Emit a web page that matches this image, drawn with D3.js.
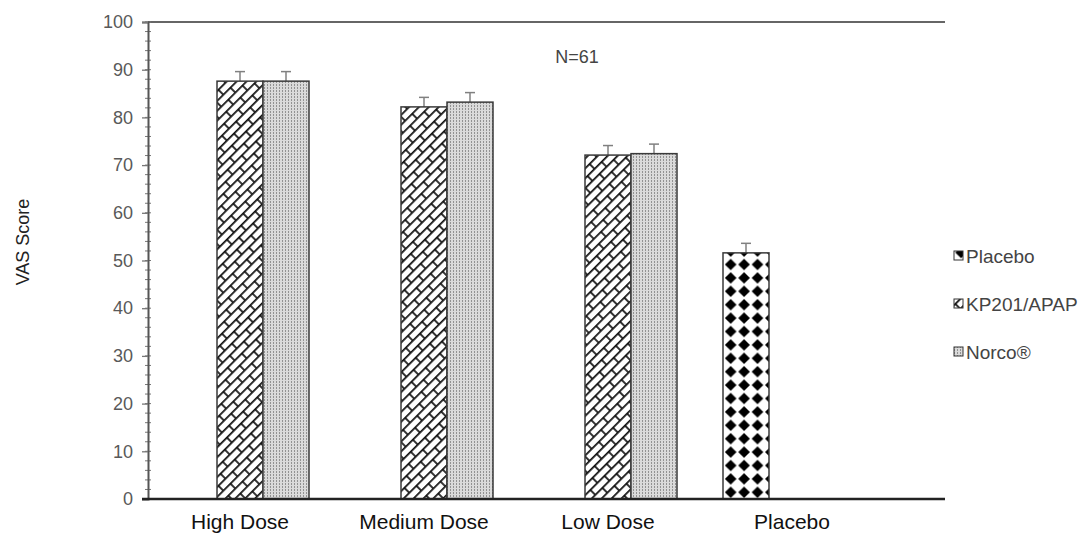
<!DOCTYPE html>
<html>
<head>
<meta charset="utf-8">
<script src="https://cdn.jsdelivr.net/npm/d3@7"></script>
<style>
  body { margin: 0; background: #fff; }
  svg { font-family: "Liberation Sans", Arial, sans-serif; }
</style>
</head>
<body>
<svg id="chart" width="1085" height="537"></svg>
<script>
// values
const categories = ['High Dose', 'Medium Dose', 'Low Dose', 'Placebo'];
const seriesNames = ['Placebo', 'KP201/APAP', 'Norco®'];
const placeboValues = [null, null, null, 51.6];
const kp201Values = [87.6, 82.2, 72.1, null];
const norcoValues = [87.6, 83.2, 72.4, null];
const placeboErrors = [null, null, null, 2.0];
const kp201Errors = [2.0, 2.0, 2.0, null];
const norcoErrors = [2.0, 2.0, 2.0, null];
const yTicks = [0, 10, 20, 30, 40, 50, 60, 70, 80, 90, 100];

const svg = d3.select('#chart');
const plotLeft = 148, plotTop = 22, plotBottom = 499, catRight = 884, frameRight = 945;

const x = d3.scaleBand().domain(categories).range([plotLeft, catRight]);
const groupPad = x.bandwidth() / 8;
const xs = d3.scaleBand().domain(seriesNames).range([groupPad, x.bandwidth() - groupPad]);
const y = d3.scaleLinear().domain([0, 100]).range([plotBottom, plotTop]);

// patterns
const defs = svg.append('defs');

// diagonal brick for KP201/APAP
const brick = defs.append('pattern')
  .attr('id', 'pat-kp')
  .attr('patternUnits', 'userSpaceOnUse')
  .attr('width', 20).attr('height', 14)
  .attr('patternTransform', 'rotate(-45)');
brick.append('rect').attr('width', 20).attr('height', 14).attr('fill', '#fff');
brick.append('path')
  .attr('d', 'M0,0.8H20M0,7.8H20M1,0V8M11,7V14')
  .attr('stroke', '#111').attr('stroke-width', 1.7).attr('fill', 'none');

// fine gray texture for Norco
const dots = defs.append('pattern')
  .attr('id', 'pat-norco')
  .attr('patternUnits', 'userSpaceOnUse')
  .attr('width', 3).attr('height', 3);
dots.append('rect').attr('width', 3).attr('height', 3).attr('fill', '#dadada');
dots.append('rect').attr('width', 1).attr('height', 2).attr('fill', '#929292');

// diamond checker for Placebo
const diam = defs.append('pattern')
  .attr('id', 'pat-placebo')
  .attr('patternUnits', 'userSpaceOnUse')
  .attr('x', 724).attr('y', plotBottom)
  .attr('width', 13.4).attr('height', 13.4);
diam.append('rect').attr('width', 13.4).attr('height', 13.4).attr('fill', '#fff');
const r = 5.8, c = 6.7;
diam.append('path')
  .attr('d', `M${c},${c - r}L${c + r},${c}L${c},${c + r}L${c - r},${c}Z`)
  .attr('fill', '#000');

const fills = {'Placebo': 'url(#pat-placebo)', 'KP201/APAP': 'url(#pat-kp)', 'Norco®': 'url(#pat-norco)'};
const valueSets = {'Placebo': placeboValues, 'KP201/APAP': kp201Values, 'Norco®': norcoValues};
const errorSets = {'Placebo': placeboErrors, 'KP201/APAP': kp201Errors, 'Norco®': norcoErrors};

const rows = [];
seriesNames.forEach(s => {
  categories.forEach((cat, i) => {
    if (valueSets[s][i] != null) rows.push({series: s, cat: cat, value: valueSets[s][i], err: errorSets[s][i]});
  });
});

// frame top line
svg.append('line')
  .attr('x1', plotLeft).attr('x2', frameRight)
  .attr('y1', plotTop).attr('y2', plotTop)
  .attr('stroke', '#333').attr('stroke-width', 1.5);

// error bars
const err = svg.append('g').attr('stroke', '#808080').attr('stroke-width', 1.5);
rows.forEach(d => {
  const cx = x(d.cat) + xs(d.series) + xs.bandwidth() / 2;
  err.append('line').attr('x1', cx).attr('x2', cx)
    .attr('y1', y(d.value)).attr('y2', y(d.value + d.err));
  err.append('line').attr('x1', cx - 5).attr('x2', cx + 5)
    .attr('y1', y(d.value + d.err)).attr('y2', y(d.value + d.err));
});

// bars
svg.append('g').selectAll('rect')
  .data(rows)
  .enter().append('rect')
  .attr('x', d => x(d.cat) + xs(d.series))
  .attr('y', d => y(d.value))
  .attr('width', xs.bandwidth())
  .attr('height', d => y(0) - y(d.value))
  .attr('fill', d => fills[d.series])
  .attr('stroke', '#3a3a3a')
  .attr('stroke-width', 1.5);

// y axis with minor ticks
const minor = d3.range(0, 101, 2);
svg.append('g').selectAll('line')
  .data(minor)
  .enter().append('line')
  .attr('x1', plotLeft - 3).attr('x2', plotLeft + 3)
  .attr('y1', d => y(d)).attr('y2', d => y(d))
  .attr('stroke', '#777').attr('stroke-width', 1);

const yAxis = svg.append('g')
  .attr('transform', `translate(${plotLeft},0)`)
  .call(d3.axisLeft(y).tickValues(yTicks).tickSize(6).tickPadding(9));
yAxis.select('.domain').attr('stroke', '#555').attr('stroke-width', 2);
yAxis.selectAll('.tick line').attr('stroke', '#777').attr('stroke-width', 1.3);
yAxis.selectAll('.tick text').attr('fill', '#595959').style('font-size', '18px');

// x axis
const xAxis = svg.append('g')
  .attr('transform', `translate(0,${plotBottom})`)
  .call(d3.axisBottom(x).tickSize(0).tickPadding(15));
xAxis.select('.domain').remove();
xAxis.selectAll('.tick text').attr('fill', '#111').style('font-size', '21px');
svg.append('line')
  .attr('x1', plotLeft - 6).attr('x2', frameRight)
  .attr('y1', plotBottom).attr('y2', plotBottom)
  .attr('stroke', '#222').attr('stroke-width', 2.5);

// y label
svg.append('text')
  .attr('transform', 'translate(29,242) rotate(-90)')
  .attr('text-anchor', 'middle')
  .attr('fill', '#222')
  .style('font-size', '18px')
  .text('VAS Score');

// annotation
svg.append('text')
  .attr('x', 577).attr('y', 63)
  .attr('text-anchor', 'middle')
  .attr('fill', '#444')
  .style('font-size', '18px')
  .text('N=61');

// legend
const legend = svg.append('g').selectAll('g')
  .data(seriesNames)
  .enter().append('g')
  .attr('transform', (d, i) => `translate(954,${256 + i * 48})`);
legend.append('rect')
  .attr('x', 0).attr('y', -5)
  .attr('width', 9).attr('height', 9)
  .attr('fill', d => fills[d])
  .attr('stroke', '#333').attr('stroke-width', 1);
legend.append('text')
  .attr('x', 12).attr('y', 6.5)
  .attr('fill', '#444')
  .style('font-size', '19px')
  .text(d => d);
</script>
</body>
</html>
